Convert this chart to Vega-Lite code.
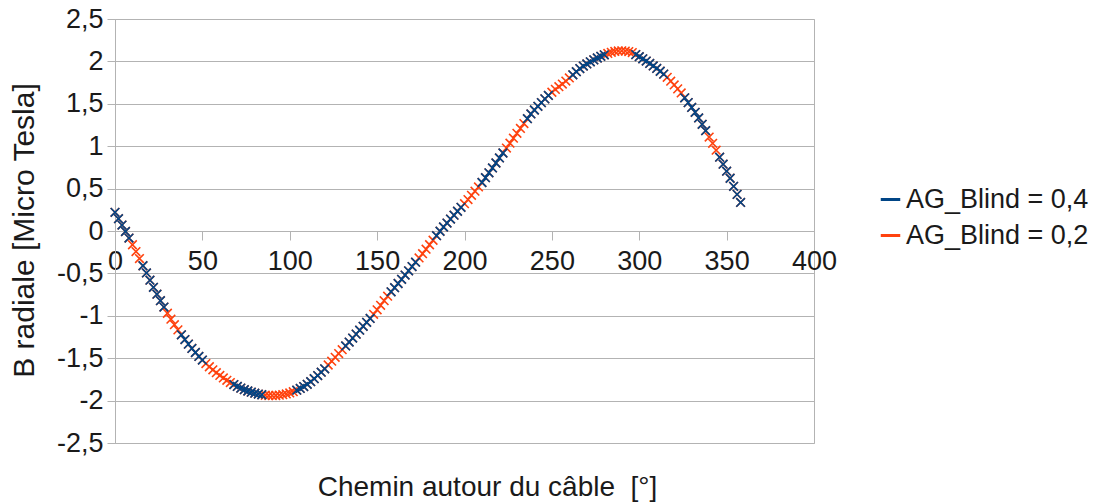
{
  "$schema": "https://vega.github.io/schema/vega-lite/v6.json",
  "width": 699,
  "height": 424,
  "autosize": {"type": "none"},
  "padding": {"left": 115, "top": 19, "right": 281, "bottom": 61},
  "background": "white",
  "config": {
    "font": "Liberation Sans",
    "view": {"stroke": "#b3b3b3", "strokeWidth": 1}
  },
  "datasets": {
    "ag02": [
      {"angle":0,"B":0.22},{"angle":2,"B":0.145},{"angle":4,"B":0.07},{"angle":6,"B":-0.006},{"angle":8,"B":-0.083},
      {"angle":10,"B":-0.162},{"angle":12,"B":-0.243},{"angle":14,"B":-0.325},{"angle":16,"B":-0.41},{"angle":18,"B":-0.495},
      {"angle":20,"B":-0.58},{"angle":22,"B":-0.664},{"angle":24,"B":-0.745},{"angle":26,"B":-0.822},{"angle":28,"B":-0.897},
      {"angle":30,"B":-0.97},{"angle":32,"B":-1.04},{"angle":34,"B":-1.105},{"angle":36,"B":-1.166},{"angle":38,"B":-1.224},
      {"angle":40,"B":-1.28},{"angle":42,"B":-1.334},{"angle":44,"B":-1.385},{"angle":46,"B":-1.433},{"angle":48,"B":-1.479},
      {"angle":50,"B":-1.522},{"angle":52,"B":-1.563},{"angle":54,"B":-1.601},{"angle":56,"B":-1.637},{"angle":58,"B":-1.671},
      {"angle":60,"B":-1.703},{"angle":62,"B":-1.733},{"angle":64,"B":-1.761},{"angle":66,"B":-1.787},{"angle":68,"B":-1.811},
      {"angle":70,"B":-1.833},{"angle":72,"B":-1.853},{"angle":74,"B":-1.871},{"angle":76,"B":-1.887},{"angle":78,"B":-1.901},
      {"angle":80,"B":-1.913},{"angle":82,"B":-1.923},{"angle":84,"B":-1.931},{"angle":86,"B":-1.937},{"angle":88,"B":-1.94},
      {"angle":90,"B":-1.941},{"angle":92,"B":-1.94},{"angle":94,"B":-1.936},{"angle":96,"B":-1.93},{"angle":98,"B":-1.921},
      {"angle":100,"B":-1.91},{"angle":102,"B":-1.895},{"angle":104,"B":-1.877},{"angle":106,"B":-1.857},{"angle":108,"B":-1.834},
      {"angle":110,"B":-1.808},{"angle":112,"B":-1.777},{"angle":114,"B":-1.742},{"angle":116,"B":-1.705},{"angle":118,"B":-1.665},
      {"angle":120,"B":-1.625},{"angle":122,"B":-1.58},{"angle":124,"B":-1.535},{"angle":126,"B":-1.49},{"angle":128,"B":-1.445},
      {"angle":130,"B":-1.4},{"angle":132,"B":-1.355},{"angle":134,"B":-1.31},{"angle":136,"B":-1.263},{"angle":138,"B":-1.216},
      {"angle":140,"B":-1.17},{"angle":142,"B":-1.124},{"angle":144,"B":-1.077},{"angle":146,"B":-1.031},{"angle":148,"B":-0.982},
      {"angle":150,"B":-0.929},{"angle":152,"B":-0.876},{"angle":154,"B":-0.822},{"angle":156,"B":-0.769},{"angle":158,"B":-0.717},
      {"angle":160,"B":-0.668},{"angle":162,"B":-0.619},{"angle":164,"B":-0.57},{"angle":166,"B":-0.52},{"angle":168,"B":-0.469},
      {"angle":170,"B":-0.419},{"angle":172,"B":-0.368},{"angle":174,"B":-0.318},{"angle":176,"B":-0.267},{"angle":178,"B":-0.214},
      {"angle":180,"B":-0.162},{"angle":182,"B":-0.109},{"angle":184,"B":-0.055},{"angle":186,"B":-0.003},{"angle":188,"B":0.047},
      {"angle":190,"B":0.094},{"angle":192,"B":0.141},{"angle":194,"B":0.187},{"angle":196,"B":0.233},{"angle":198,"B":0.279},
      {"angle":200,"B":0.322},{"angle":202,"B":0.371},{"angle":204,"B":0.421},{"angle":206,"B":0.47},{"angle":208,"B":0.52},
      {"angle":210,"B":0.572},{"angle":212,"B":0.629},{"angle":214,"B":0.686},{"angle":216,"B":0.744},{"angle":218,"B":0.802},
      {"angle":220,"B":0.862},{"angle":222,"B":0.92},{"angle":224,"B":0.978},{"angle":226,"B":1.036},{"angle":228,"B":1.094},
      {"angle":230,"B":1.152},{"angle":232,"B":1.209},{"angle":234,"B":1.267},{"angle":236,"B":1.324},{"angle":238,"B":1.38},
      {"angle":240,"B":1.427},{"angle":242,"B":1.47},{"angle":244,"B":1.514},{"angle":246,"B":1.558},{"angle":248,"B":1.599},
      {"angle":250,"B":1.636},{"angle":252,"B":1.67},{"angle":254,"B":1.702},{"angle":256,"B":1.733},{"angle":258,"B":1.768},
      {"angle":260,"B":1.805},{"angle":262,"B":1.842},{"angle":264,"B":1.879},{"angle":266,"B":1.916},{"angle":268,"B":1.945},
      {"angle":270,"B":1.97},{"angle":272,"B":1.995},{"angle":274,"B":2.018},{"angle":276,"B":2.04},{"angle":278,"B":2.06},
      {"angle":280,"B":2.078},{"angle":282,"B":2.094},{"angle":284,"B":2.107},{"angle":286,"B":2.117},{"angle":288,"B":2.123},
      {"angle":290,"B":2.125},{"angle":292,"B":2.122},{"angle":294,"B":2.116},{"angle":296,"B":2.104},{"angle":298,"B":2.08},
      {"angle":300,"B":2.056},{"angle":302,"B":2.03},{"angle":304,"B":2.004},{"angle":306,"B":1.976},{"angle":308,"B":1.947},
      {"angle":310,"B":1.917},{"angle":312,"B":1.884},{"angle":314,"B":1.85},{"angle":316,"B":1.812},{"angle":318,"B":1.767},
      {"angle":320,"B":1.722},{"angle":322,"B":1.676},{"angle":324,"B":1.628},{"angle":326,"B":1.571},{"angle":328,"B":1.514},
      {"angle":330,"B":1.457},{"angle":332,"B":1.4},{"angle":334,"B":1.333},{"angle":336,"B":1.258},{"angle":338,"B":1.183},
      {"angle":340,"B":1.108},{"angle":342,"B":1.034},{"angle":344,"B":0.953},{"angle":346,"B":0.87},{"angle":348,"B":0.788},
      {"angle":350,"B":0.705},{"angle":352,"B":0.622},{"angle":354,"B":0.527},{"angle":356,"B":0.432},{"angle":358,"B":0.337}
    ],
    "ag04": [
      {"angle":0,"B":0.22},{"angle":2,"B":0.145},{"angle":4,"B":0.07},{"angle":6,"B":-0.006},{"angle":8,"B":-0.083},
      {"angle":16,"B":-0.41},{"angle":18,"B":-0.495},{"angle":20,"B":-0.58},{"angle":22,"B":-0.664},{"angle":24,"B":-0.745},{"angle":26,"B":-0.822},{"angle":28,"B":-0.897},
      {"angle":38,"B":-1.224},{"angle":40,"B":-1.28},{"angle":42,"B":-1.334},{"angle":44,"B":-1.385},{"angle":46,"B":-1.433},{"angle":48,"B":-1.479},{"angle":50,"B":-1.522},
      {"angle":68,"B":-1.811},{"angle":70,"B":-1.833},{"angle":72,"B":-1.853},{"angle":74,"B":-1.871},{"angle":76,"B":-1.887},{"angle":78,"B":-1.901},{"angle":80,"B":-1.913},{"angle":82,"B":-1.923},{"angle":84,"B":-1.931},
      {"angle":104,"B":-1.877},{"angle":106,"B":-1.857},{"angle":108,"B":-1.834},{"angle":110,"B":-1.808},{"angle":112,"B":-1.777},{"angle":114,"B":-1.742},{"angle":116,"B":-1.705},{"angle":118,"B":-1.665},{"angle":120,"B":-1.625},
      {"angle":132,"B":-1.355},{"angle":134,"B":-1.31},{"angle":136,"B":-1.263},{"angle":138,"B":-1.216},{"angle":140,"B":-1.17},{"angle":142,"B":-1.124},{"angle":144,"B":-1.077},{"angle":146,"B":-1.031},
      {"angle":158,"B":-0.717},{"angle":160,"B":-0.668},{"angle":162,"B":-0.619},{"angle":164,"B":-0.57},{"angle":166,"B":-0.52},{"angle":168,"B":-0.469},{"angle":170,"B":-0.419},{"angle":172,"B":-0.368},
      {"angle":184,"B":-0.055},{"angle":186,"B":-0.003},{"angle":188,"B":0.047},{"angle":190,"B":0.094},{"angle":192,"B":0.141},{"angle":194,"B":0.187},{"angle":196,"B":0.233},{"angle":198,"B":0.279},
      {"angle":210,"B":0.572},{"angle":212,"B":0.629},{"angle":214,"B":0.686},{"angle":216,"B":0.744},{"angle":218,"B":0.802},{"angle":220,"B":0.862},{"angle":222,"B":0.92},
      {"angle":236,"B":1.324},{"angle":238,"B":1.38},{"angle":240,"B":1.427},{"angle":242,"B":1.47},{"angle":244,"B":1.514},{"angle":246,"B":1.558},{"angle":248,"B":1.599},
      {"angle":262,"B":1.842},{"angle":264,"B":1.879},{"angle":266,"B":1.916},{"angle":268,"B":1.945},{"angle":270,"B":1.97},{"angle":272,"B":1.995},{"angle":274,"B":2.018},{"angle":276,"B":2.04},{"angle":278,"B":2.06},{"angle":280,"B":2.078},
      {"angle":298,"B":2.08},{"angle":300,"B":2.056},{"angle":302,"B":2.03},{"angle":304,"B":2.004},{"angle":306,"B":1.976},{"angle":308,"B":1.947},{"angle":310,"B":1.917},{"angle":312,"B":1.884},{"angle":314,"B":1.85},
      {"angle":326,"B":1.571},{"angle":328,"B":1.514},{"angle":330,"B":1.457},{"angle":332,"B":1.4},{"angle":334,"B":1.333},{"angle":336,"B":1.258},{"angle":338,"B":1.183},
      {"angle":346,"B":0.87},{"angle":348,"B":0.788},{"angle":350,"B":0.705},{"angle":352,"B":0.622},{"angle":354,"B":0.527},{"angle":356,"B":0.432},{"angle":358,"B":0.337}
    ]
  },
  "encoding": {
    "x": {
      "field": "angle",
      "type": "quantitative",
      "scale": {"domain": [0, 400], "nice": false, "zero": false},
      "axis": {
        "values": [0, 50, 100, 150, 200, 250, 300, 350, 400],
        "offset": -212,
        "grid": false,
        "domainColor": "#b3b3b3",
        "tickColor": "#b3b3b3",
        "tickSize": 9,
        "labelFontSize": 27,
        "labelColor": "#1a1a1a",
        "labelPadding": 8,
        "labelFlush": false,
        "labelOverlap": false,
        "title": "Chemin autour du câble \u00a0[°]",
        "titleFontSize": 28,
        "titleFontWeight": "normal",
        "titleColor": "#1a1a1a",
        "titleX": 372,
        "titleY": 242,
        "titleAlign": "center",
        "titleBaseline": "top"
      }
    },
    "y": {
      "field": "B",
      "type": "quantitative",
      "scale": {"domain": [-2.5, 2.5], "nice": false, "zero": false},
      "axis": {
        "values": [-2.5, -2, -1.5, -1, -0.5, 0, 0.5, 1, 1.5, 2, 2.5],
        "grid": true,
        "gridColor": "#b3b3b3",
        "domainColor": "#b3b3b3",
        "tickColor": "#b3b3b3",
        "tickSize": 8,
        "labelPadding": 4,
        "labelFontSize": 27,
        "labelColor": "#1a1a1a",
        "labelExpr": "(datum.value < 0 ? '-' : '') + replace(format(abs(datum.value), '~g'), '.', ',')",
        "title": "B radiale [Micro Tesla]",
        "titleFontSize": 30,
        "titleFontWeight": "normal",
        "titleColor": "#1a1a1a",
        "titleAngle": -90,
        "titleX": -91,
        "titleY": 211,
        "titleAlign": "center",
        "titleBaseline": "middle"
      }
    }
  },
  "layer": [
    {
      "data": {"name": "ag02"},
      "mark": {"type": "point", "shape": "M-1,-1L1,1M-1,1L1,-1", "filled": false, "strokeWidth": 1.6, "size": 75, "opacity": 1},
      "encoding": {
        "color": {
          "datum": "AG_Blind = 0,2",
          "type": "nominal",
          "scale": {"domain": ["AG_Blind = 0,4", "AG_Blind = 0,2"], "range": ["#004586", "#ff420e"]},
          "legend": {
            "orient": "none",
            "legendX": 762,
            "legendY": 167,
            "title": null,
            "padding": 0,
            "symbolType": "stroke",
            "symbolSize": 380,
            "symbolStrokeWidth": 3,
            "labelFontSize": 27,
            "labelColor": "#1a1a1a",
            "labelOffset": 2,
            "labelLimit": 320,
            "rowPadding": 8
          }
        }
      }
    },
    {
      "data": {"name": "ag04"},
      "mark": {"type": "point", "shape": "M-1,-1L1,1M-1,1L1,-1", "filled": false, "strokeWidth": 1.6, "size": 75, "opacity": 1},
      "encoding": {
        "color": {"datum": "AG_Blind = 0,4", "type": "nominal"}
      }
    }
  ]
}
